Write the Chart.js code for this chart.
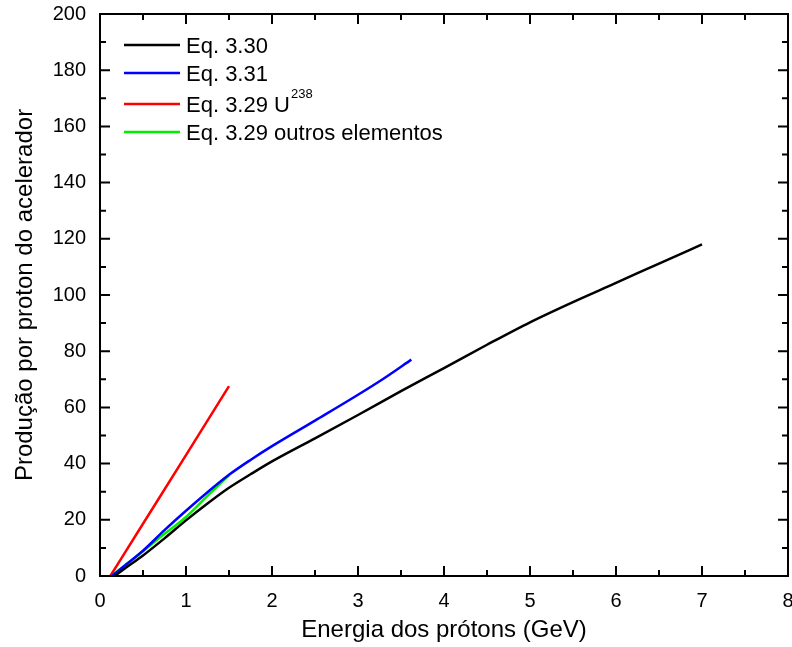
<!DOCTYPE html>
<html>
<head>
<meta charset="utf-8">
<script src="https://cdn.jsdelivr.net/npm/chart.js@4.4.1/dist/chart.umd.min.js"></script>
<style>
  html, body { margin: 0; padding: 0; background: #fff; }
  #wrap { width: 792px; height: 647px; }
</style>
</head>
<body>
<div id="wrap"><canvas id="grafico"></canvas></div>
<script>
// dados
const xEq330 = [0.17, 0.3, 0.5, 0.75, 1, 1.25, 1.5, 1.75, 2, 2.5, 3, 3.5, 4, 4.5, 5, 5.5, 6, 6.5, 7];
const yEq330 = [0, 2.9, 7.3, 13.4, 19.8, 25.8, 31.4, 36.2, 40.8, 49, 57.3, 65.8, 74, 82.3, 90.3, 97.5, 104.3, 111.2, 118];

const xEq331 = [0.14, 0.3, 0.5, 0.75, 1, 1.25, 1.5, 1.75, 2, 2.5, 3, 3.3, 3.62];
const yEq331 = [0, 4, 9, 16.3, 23.2, 29.8, 36, 41.3, 46.2, 55.3, 64.5, 70.3, 77];

const xEq329U = [0.12, 0.5, 1, 1.5];
const yEq329U = [0, 18.6, 43, 67.6];

const xEq329Outros = [0.13, 0.3, 0.5, 0.75, 1, 1.25, 1.5];
const yEq329Outros = [0, 4, 8.8, 15, 21, 28.5, 35.8];

const legendas = ['Eq. 3.30', 'Eq. 3.31', 'Eq. 3.29 U', 'Eq. 3.29 outros elementos'];
const sobrescritos = ['', '', '238', ''];

const xTicks = [0, 1, 2, 3, 4, 5, 6, 7, 8];
const yTicks = [0, 20, 40, 60, 80, 100, 120, 140, 160, 180, 200];

const FONTE = '"Liberation Sans", Arial, sans-serif';

function pares(xs, ys) {
    return xs.map((x, i) => ({ x: x, y: ys[i] }));
}

function serie(label, xs, ys, cor) {
    return {
        label: label,
        data: pares(xs, ys),
        borderColor: cor,
        backgroundColor: cor,
        borderWidth: 2.5,
        pointRadius: 0,
        showLine: true,
        fill: false,
        cubicInterpolationMode: 'monotone'
    };
}

// moldura e ticks para dentro (maiores e menores)
const molduraPlugin = {
    id: 'moldura',
    afterDraw(chart) {
        const ctx = chart.ctx;
        const a = chart.chartArea;
        const xs = chart.scales.x, ys = chart.scales.y;
        ctx.save();
        ctx.strokeStyle = '#000';
        ctx.lineWidth = 2;
        ctx.strokeRect(a.left, a.top, a.right - a.left, a.bottom - a.top);
        ctx.beginPath();
        for (let i = 0; i < xTicks.length; i++) {
            const v = xTicks[i];
            const px = xs.getPixelForValue(v);
            ctx.moveTo(px, a.bottom); ctx.lineTo(px, a.bottom - 10);
            ctx.moveTo(px, a.top); ctx.lineTo(px, a.top + 10);
            if (i < xTicks.length - 1) {
                const pm = xs.getPixelForValue((v + xTicks[i + 1]) / 2);
                ctx.moveTo(pm, a.bottom); ctx.lineTo(pm, a.bottom - 6);
                ctx.moveTo(pm, a.top); ctx.lineTo(pm, a.top + 6);
            }
        }
        for (let i = 0; i < yTicks.length; i++) {
            const v = yTicks[i];
            const py = ys.getPixelForValue(v);
            ctx.moveTo(a.left, py); ctx.lineTo(a.left + 10, py);
            ctx.moveTo(a.right, py); ctx.lineTo(a.right - 10, py);
            if (i < yTicks.length - 1) {
                const pm = ys.getPixelForValue((v + yTicks[i + 1]) / 2);
                ctx.moveTo(a.left, pm); ctx.lineTo(a.left + 6, pm);
                ctx.moveTo(a.right, pm); ctx.lineTo(a.right - 6, pm);
            }
        }
        ctx.stroke();
        ctx.restore();
    }
};

// legenda dentro do grafico, com sobrescrito
const legendaPlugin = {
    id: 'legendaInterna',
    afterDatasetsDraw(chart) {
        const ctx = chart.ctx;
        const a = chart.chartArea;
        const linhas = [31, 59, 90, 118];
        ctx.save();
        chart.data.datasets.forEach((ds, i) => {
            const y = a.top + linhas[i];
            ctx.strokeStyle = ds.borderColor;
            ctx.lineWidth = 2.5;
            ctx.beginPath();
            ctx.moveTo(a.left + 24, y);
            ctx.lineTo(a.left + 80, y);
            ctx.stroke();
            ctx.fillStyle = '#000';
            ctx.font = '22px ' + FONTE;
            ctx.textBaseline = 'middle';
            ctx.textAlign = 'left';
            const tx = a.left + 86;
            ctx.fillText(legendas[i], tx, y + 2);
            if (sobrescritos[i]) {
                const w = ctx.measureText(legendas[i]).width;
                ctx.font = '13px ' + FONTE;
                ctx.fillText(sobrescritos[i], tx + w + 1, y - 10);
            }
        });
        ctx.restore();
    }
};

const ctx = document.getElementById('grafico').getContext('2d');
const grafico = new Chart(ctx, {
    type: 'scatter',
    data: {
        datasets: [
            serie(legendas[0], xEq330, yEq330, '#000000'),
            serie(legendas[1], xEq331, yEq331, '#0000ff'),
            serie(legendas[2], xEq329U, yEq329U, '#ff0000'),
            serie(legendas[3], xEq329Outros, yEq329Outros, '#00ee00')
        ]
    },
    options: {
        responsive: true,
        maintainAspectRatio: false,
        animation: false,
        layout: { padding: { left: 0, right: 4, top: 14, bottom: 0 } },
        plugins: {
            legend: { display: false },
            tooltip: { enabled: false }
        },
        scales: {
            x: {
                type: 'linear',
                min: 0,
                max: 8,
                grid: { display: false },
                border: { display: false },
                afterBuildTicks: (s) => { s.ticks = xTicks.map(v => ({ value: v })); },
                afterFit: (s) => { s.height = 71; s.paddingLeft = 0; s.paddingRight = 0; },
                ticks: { color: '#000', padding: 5, font: { family: FONTE, size: 20 } },
                title: {
                    display: true,
                    text: 'Energia dos prótons (GeV)',
                    color: '#000',
                    padding: { top: 0, bottom: 2 },
                    font: { family: FONTE, size: 24 }
                }
            },
            y: {
                type: 'linear',
                min: 0,
                max: 200,
                grid: { display: false },
                border: { display: false },
                afterBuildTicks: (s) => { s.ticks = yTicks.map(v => ({ value: v })); },
                afterFit: (s) => { s.width = 100; s.paddingTop = 0; s.paddingBottom = 0; },
                ticks: { color: '#000', padding: 6, font: { family: FONTE, size: 20 } },
                title: {
                    display: true,
                    text: 'Produção por proton do acelerador',
                    color: '#000',
                    padding: { top: 11, bottom: 0 },
                    font: { family: FONTE, size: 24 }
                }
            }
        }
    },
    plugins: [molduraPlugin, legendaPlugin]
});
</script>
</body>
</html>
